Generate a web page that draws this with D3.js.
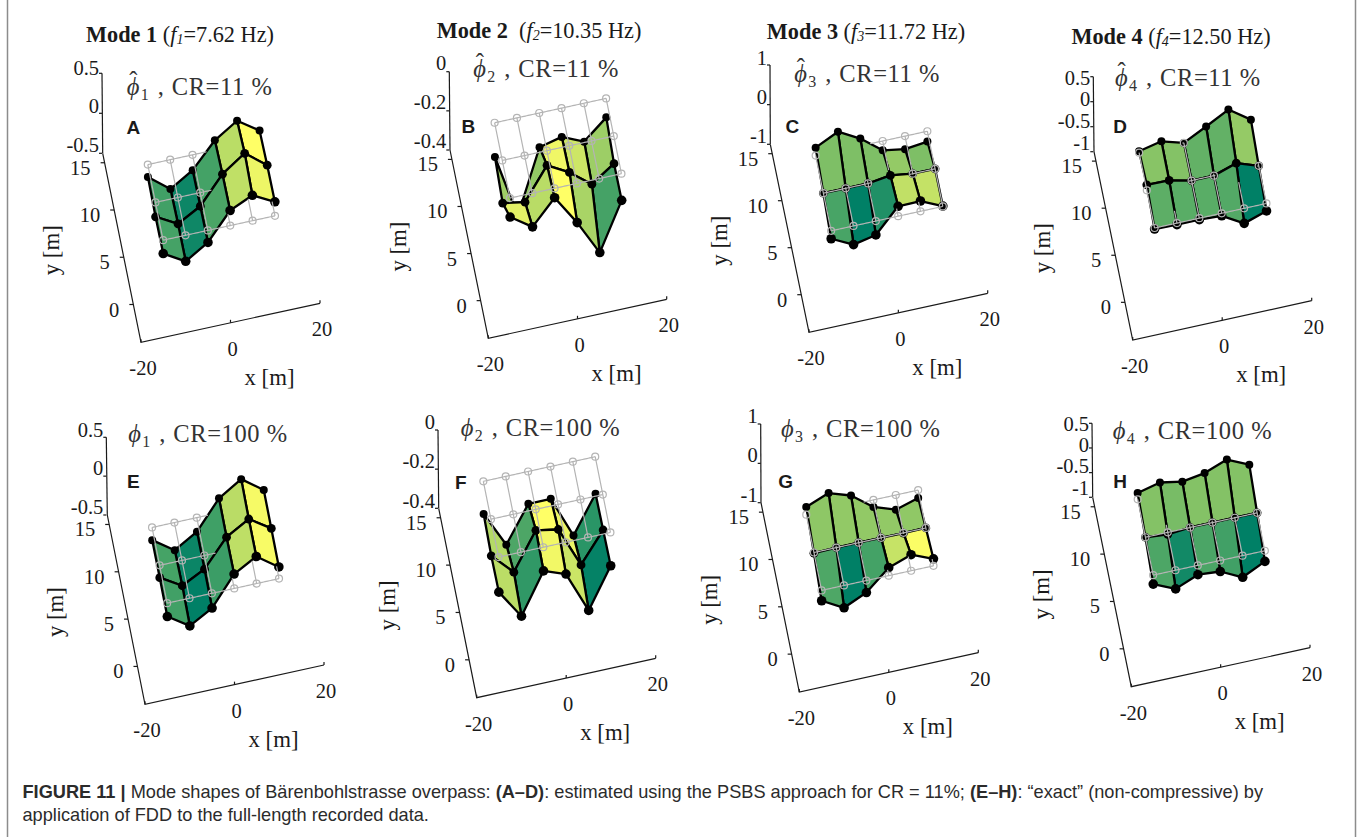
<!DOCTYPE html>
<html>
<head>
<meta charset="utf-8">
<script src="https://cdn.jsdelivr.net/npm/d3@7"></script>
<style>
  html, body { margin: 0; padding: 0; background: #fff; }
  svg { display: block; }
  .serif { font-family: "Liberation Serif", serif; }
  .sans { font-family: "Liberation Sans", Arial, sans-serif; }
</style>
</head>
<body>
<svg id="chart" width="1357" height="837"></svg>
<script>
// Measurement grid of the overpass [m]
const xNodes = [-12.5, -7.5, -2.5, 2.5, 7.5, 12.5];
const yNodes = [1.8, 5.8, 9.8];

// Axis ticks
const xTicks = [-20, 0, 20];
const yTicks = [0, 5, 10, 15];
const zTicks1 = [-0.5, 0, 0.5];
const zTicks2 = [-0.4, -0.2, 0];
const zTicks3 = [-1, 0, 1];
const zTicks4 = [-1, -0.5, 0, 0.5];

// Mode shapes, rows go y = 1.8, 5.8, 9.8
const phiHat1 = [
  [-0.167, -0.325, -0.15, 0.188, 0.317, 0.175],
  [-0.18, -0.33, -0.17, 0.17, 0.37, 0.16],
  [-0.154, -0.367, -0.192, 0.121, 0.304, 0.121]
];
const phiHat2 = [
  [-0.097, -0.172, -0.048, -0.2, -0.378, -0.136],
  [-0.218, -0.238, -0.075, -0.136, -0.221, -0.141],
  [-0.175, -0.5, -0.175, -0.147, -0.196, -0.097]
];
const phiHat3 = [
  [-0.2, -0.47, -0.35, 0.25, 0.26, 0.01],
  [0, 0, 0, 0.08, 0, 0],
  [0.2, 0.48, 0.185, -0.235, -0.33, -0.26]
];
const phiHat4 = [
  [-0.02, -0.03, -0.03, -0.05, -0.3, -0.15],
  [0.11, 0.1, 0, 0, 0.15, 0],
  [0.03, 0.13, 0, 0.23, 0.47, 0.17]
];
const phi1 = [
  [-0.172, -0.356, -0.189, 0.185, 0.348, 0.15],
  [-0.159, -0.326, -0.176, 0.172, 0.343, 0.159],
  [-0.163, -0.356, -0.18, 0.185, 0.369, 0.167]
];
const phi2 = [
  [-0.179, -0.327, -0.121, -0.162, -0.373, -0.17],
  [-0.187, -0.296, -0.107, -0.128, -0.334, -0.181],
  [-0.167, -0.349, -0.165, -0.165, -0.378, -0.189]
];
const phi3 = [
  [-0.263, -0.568, -0.305, 0.203, 0.407, 0.178],
  [-0.017, 0, 0, 0, -0.008, 0],
  [0.195, 0.424, 0.237, -0.178, -0.373, -0.203]
];
const phi4 = [
  [-0.182, -0.378, -0.189, -0.223, -0.439, -0.216],
  [0, -0.04, 0, 0, 0, 0],
  [0.128, 0.243, 0.162, 0.236, 0.412, 0.209]
];

const modeTitles = [
  { mode: "Mode 1", gap: " (", sub: "1", freq: "=7.62 Hz)", cx: 180, y: 42 },
  { mode: "Mode 2", gap: "  (", sub: "2", freq: "=10.35 Hz)", cx: 539, y: 38 },
  { mode: "Mode 3", gap: " (", sub: "3", freq: "=11.72 Hz)", cx: 866, y: 39 },
  { mode: "Mode 4", gap: " (", sub: "4", freq: "=12.50 Hz)", cx: 1171, y: 44 }
];

// Panel placement: corner = axes corner, xEnd / yTop / zTop = far ends of the axes
const panels = [
  { letter: "A", values: phiHat1, z: zTicks1, idx: "1", hat: true, cr: "CR=11 %", corner: [141, 342.3], xEnd: [320, 303.3], yTop: [102.7, 153.3], zTop: [102, 73.3], zLab: [68.3, 145], txt: [126.7, 95], let: [133.3, 126.7] },
  { letter: "B", values: phiHat2, z: zTicks2, idx: "2", hat: true, cr: "CR=11 %", corner: [488.3, 338.3], xEnd: [666.7, 299.3], yTop: [450, 150], zTop: [449.3, 71.7], zLab: [63.3, 141.7], txt: [473.3, 76.7], let: [468.3, 125.7] },
  { letter: "C", values: phiHat3, z: zTicks3, idx: "3", hat: true, cr: "CR=11 %", corner: [809, 332.3], xEnd: [987.7, 293.3], yTop: [770.3, 144.3], zTop: [770, 65], zLab: [58.3, 136.7], txt: [794.3, 81.7], let: [792.3, 125.7] },
  { letter: "D", values: phiHat4, z: zTicks4, idx: "4", hat: true, cr: "CR=11 %", corner: [1132.7, 340], xEnd: [1311.7, 300.7], yTop: [1094, 151.7], zTop: [1093.3, 76.7], zLab: [78.3, 143.3], txt: [1115, 86], let: [1120, 125.7] },
  { letter: "E", values: phi1, z: zTicks1, idx: "1", hat: false, cr: "CR=100 %", corner: [145, 704.3], xEnd: [324, 665], yTop: [107.3, 515], zTop: [106.3, 437.3], zLab: [430, 507.3], txt: [128.3, 441.7], let: [133.3, 481] },
  { letter: "F", values: phi2, z: zTicks2, idx: "2", hat: false, cr: "CR=100 %", corner: [476.7, 697.7], xEnd: [655.7, 658.3], yTop: [438.7, 508.3], zTop: [438, 430], zLab: [422.7, 501], txt: [460.7, 436], let: [460.7, 481.7] },
  { letter: "G", values: phi3, z: zTicks3, idx: "3", hat: false, cr: "CR=100 %", corner: [799.3, 692], xEnd: [978.3, 652.7], yTop: [761, 502.7], zTop: [760.7, 424], zLab: [416.7, 495], txt: [781, 437.3], let: [785.7, 481] },
  { letter: "H", values: phi4, z: zTicks4, idx: "4", hat: false, cr: "CR=100 %", corner: [1131.3, 686.7], xEnd: [1310, 647.7], yTop: [1092.7, 497.3], zTop: [1092, 423.3], zLab: [424, 488.3], txt: [1112.7, 439.3], let: [1120, 481] }
];

const svg = d3.select("#chart");
const xFrac = d3.scaleLinear().domain([-20, 20]).range([0, 1]);
const yFrac = d3.scaleLinear().domain([-4, 16]).range([0, 1]);
const nodeRadius = [4.8, 4.4, 4];

modeTitles.forEach(t => {
  const title = svg.append("text").attr("class", "serif")
    .attr("x", t.cx).attr("y", t.y).attr("text-anchor", "middle")
    .attr("font-size", 22.3).attr("fill", "#1a1a1a").attr("xml:space", "preserve");
  title.append("tspan").attr("font-weight", "bold").text(t.mode);
  title.append("tspan").text(t.gap);
  title.append("tspan").attr("font-style", "italic").text("f");
  title.append("tspan").attr("font-style", "italic").attr("font-size", 14).attr("dy", 2).text(t.sub);
  title.append("tspan").attr("dy", -2).text(t.freq);
});

panels.forEach(drawPanel);
drawCaption();

function drawPanel(p) {
  const g = svg.append("g");
  const zFrac = d3.scaleLinear().domain(d3.extent(p.z)).range([0, 1]);

  // oblique projection built from the three axis vectors
  const project = (x, y, z) => {
    const fx = xFrac(x), fy = yFrac(y), fz = zFrac(z);
    return [
      p.corner[0] + fx * (p.xEnd[0] - p.corner[0]) + fy * (p.yTop[0] - p.corner[0]) + fz * (p.zTop[0] - p.yTop[0]),
      p.corner[1] + fx * (p.xEnd[1] - p.corner[1]) + fy * (p.yTop[1] - p.corner[1]) + fz * (p.zTop[1] - p.yTop[1])
    ];
  };
  // floor points on the axes, without lift
  const floor = (x, y) => project(x, y, p.z[0]);

  drawAxes(g, p, floor);

  const all = p.values.flat();
  const summer = d3.scaleLinear().domain(d3.extent(all)).range(["#008066", "#ffff66"]).clamp(true);

  // faces, far ones first so near ones paint over them
  const faces = [];
  const triangles = [];
  for (let j = yNodes.length - 2; j >= 0; j--) {
    for (let i = xNodes.length - 2; i >= 0; i--) {
      const ids = [[i, j], [i + 1, j], [i + 1, j + 1], [i, j + 1]];
      const pts = ids.map(([a, b]) => project(xNodes[a], yNodes[b], p.values[b][a]));
      const zs = ids.map(([a, b]) => p.values[b][a]);
      faces.push({ pts, color: summer(p.values[j][i]) });
      triangles.push({ ids: [ids[0], ids[1], ids[2]], pts: [pts[0], pts[1], pts[2]], zs: [zs[0], zs[1], zs[2]] });
      triangles.push({ ids: [ids[0], ids[2], ids[3]], pts: [pts[0], pts[2], pts[3]], zs: [zs[0], zs[2], zs[3]] });
    }
  }

  g.append("g").selectAll("path").data(faces).join("path")
    .attr("d", d => d3.line()(d.pts) + "Z")
    .attr("fill", d => d.color)
    .attr("stroke", "#000")
    .attr("stroke-width", 2.3)
    .attr("stroke-linejoin", "round");

  // is this screen point behind the surface, given its height z
  const eps = (d3.max(all) - d3.min(all)) * 0.015;
  const covered = (pt, z, a, b) => triangles.some(t => {
    if (a !== undefined && t.ids.some(n => n[0] === a && n[1] === b)) return false;
    const w = barycentric(pt, t.pts);
    if (!w) return false;
    return w[0] * t.zs[0] + w[1] * t.zs[1] + w[2] * t.zs[2] > z + eps;
  });

  // black nodes
  const nodes = [];
  yNodes.forEach((y, b) => xNodes.forEach((x, a) => {
    const pt = project(x, y, p.values[b][a]);
    if (!covered(pt, p.values[b][a], a, b)) nodes.push({ pt, r: nodeRadius[b] });
  }));
  g.append("g").selectAll("circle").data(nodes).join("circle")
    .attr("cx", d => d.pt[0]).attr("cy", d => d.pt[1]).attr("r", d => d.r)
    .attr("fill", "#000");

  // grey undeformed grid at z = 0, only where the surface does not hide it
  const greySegs = [];
  yNodes.forEach(y => greySegs.push([[xNodes[0], y], [xNodes[5], y]]));
  xNodes.forEach(x => greySegs.push([[x, yNodes[0]], [x, yNodes[2]]]));
  const greyLine = d3.line().defined(d => d.show).x(d => d.pt[0]).y(d => d.pt[1]);
  const samples = greySegs.map(([s, e]) => d3.range(0, 1.0001, 1 / 80).map(k => {
    const pt = project(s[0] + k * (e[0] - s[0]), s[1] + k * (e[1] - s[1]), 0);
    return { pt, show: !covered(pt, 0) };
  }));
  g.append("g").selectAll("path").data(samples).join("path")
    .attr("d", greyLine).attr("fill", "none")
    .attr("stroke", "#b4b4b4").attr("stroke-width", 1.2);

  const greyNodes = [];
  yNodes.forEach(y => xNodes.forEach(x => {
    const pt = project(x, y, 0);
    if (!covered(pt, 0)) greyNodes.push(pt);
  }));
  g.append("g").selectAll("circle").data(greyNodes).join("circle")
    .attr("cx", d => d[0]).attr("cy", d => d[1]).attr("r", 3.5)
    .attr("fill", "none").attr("stroke", "#b4b4b4").attr("stroke-width", 1.2);

  // texts over the plot, the hat is a tspan moved back over the phi
  const label = g.append("text").attr("class", "serif")
    .attr("x", p.txt[0]).attr("y", p.txt[1])
    .attr("font-size", 24.5).attr("fill", "#333").attr("xml:space", "preserve");
  label.append("tspan").attr("font-style", "italic").text("\u03D5");
  let back = 0;
  if (p.hat) {
    label.append("tspan").attr("x", p.txt[0] + 2.5).attr("dy", -6).text("\u02C6");
    back = 6;
  }
  label.append("tspan").attr("x", p.txt[0] + 14).attr("font-size", 16).attr("dy", back + 5).text(p.idx);
  label.append("tspan").attr("dy", -5).attr("x", p.txt[0] + 31).text(",");
  label.append("tspan").attr("x", p.txt[0] + 45).attr("letter-spacing", 0.6).text(p.cr);

  g.append("text").attr("class", "sans")
    .attr("x", p.let[0]).attr("y", p.let[1]).attr("dy", "0.36em")
    .attr("text-anchor", "middle").attr("font-weight", "bold").attr("font-size", 19)
    .attr("fill", "#1a1a1a").text(p.letter);
}

function drawAxes(g, p, floor) {
  const ink = "#1a1a1a";
  const axes = g.append("g").attr("fill", "none").attr("stroke", ink).attr("stroke-width", 1.2);
  axes.append("path").attr("d", d3.line()([p.yTop, p.corner, p.xEnd]));
  axes.append("path").attr("d", d3.line()([p.yTop, p.zTop]));

  const tickX = xTicks.map(v => floor(v, -4));
  const tickY = yTicks.map(v => floor(-20, v));
  axes.selectAll(".tx").data(tickX).join("path")
    .attr("d", d => `M${d[0]},${d[1]}l0,-3`);
  axes.selectAll(".ty").data(tickY).join("path")
    .attr("d", d => `M${d[0]},${d[1]}l-4,0`);

  const text = g.append("g").attr("class", "serif").attr("font-size", 20.5).attr("fill", ink);
  text.selectAll(".lx").data(xTicks).join("text")
    .attr("x", d => floor(d, -4)[0] + 2).attr("y", d => floor(d, -4)[1] + 33)
    .attr("text-anchor", "middle").text(d => d);
  text.selectAll(".ly").data(yTicks).join("text")
    .attr("x", d => floor(-20, d)[0] - 14).attr("y", d => floor(-20, d)[1] + 12)
    .attr("text-anchor", "end").text(d => d);

  // z labels sit a bit off the ticks in the original, evenly spaced
  const zLabelY = d3.scaleLinear().domain(d3.extent(p.z)).range([p.zLab[1], p.zLab[0]]);
  text.selectAll(".lz").data(p.z).join("text")
    .attr("x", p.zTop[0] - 3).attr("y", d => zLabelY(d) + 6.5)
    .attr("text-anchor", "end").text(d => d);
  const zTickY = d3.scaleLinear().domain(d3.extent(p.z)).range([p.yTop[1], p.zTop[1]]);
  axes.selectAll(".tz").data(p.z).join("path")
    .attr("d", d => `M${p.zTop[0]},${zTickY(d)}l-3,0`);

  const xMid = floor(0, -4);
  text.append("text").attr("font-size", 22.8).attr("text-anchor", "middle")
    .attr("x", xMid[0] + 39).attr("y", xMid[1] + 62).text("x [m]");
  const yMid = floor(-20, 5);
  text.append("text").attr("font-size", 22.8).attr("text-anchor", "middle")
    .attr("transform", `translate(${yMid[0] - 65},${yMid[1] - 7}) rotate(-90)`).text("y [m]");
}

function barycentric(pt, tri) {
  const [a, b, c] = tri;
  const den = (b[1] - c[1]) * (a[0] - c[0]) + (c[0] - b[0]) * (a[1] - c[1]);
  if (Math.abs(den) < 1e-6) return null;
  const w0 = ((b[1] - c[1]) * (pt[0] - c[0]) + (c[0] - b[0]) * (pt[1] - c[1])) / den;
  const w1 = ((c[1] - a[1]) * (pt[0] - c[0]) + (a[0] - c[0]) * (pt[1] - c[1])) / den;
  const w2 = 1 - w0 - w1;
  return (w0 >= 0 && w1 >= 0 && w2 >= 0) ? [w0, w1, w2] : null;
}

function drawCaption() {
  const cap = svg.append("g").attr("class", "sans").attr("font-size", 18.2).attr("fill", "#2b2b2b");
  const line1 = cap.append("text").attr("x", 22.5).attr("y", 798);
  [["FIGURE 11 | ", true], ["Mode shapes of Bärenbohlstrasse overpass: ", false], ["(A–D)", true],
   [": estimated using the PSBS approach for CR = 11%; ", false], ["(E–H)", true],
   [": \u201Cexact\u201D (non-compressive) by", false]].forEach(([t, bold]) => {
    line1.append("tspan").attr("font-weight", bold ? "bold" : "normal").text(t);
  });
  cap.append("text").attr("x", 22.5).attr("y", 821).text("application of FDD to the full-length recorded data.");
  svg.append("path")
    .attr("d", d3.line()([[7.5, 0], [7.5, 837]]))
    .attr("stroke", "#8c8c8c").attr("stroke-width", 1.5);
  svg.append("path")
    .attr("d", d3.line()([[1355.5, 0], [1355.5, 837]]))
    .attr("stroke", "#8c8c8c").attr("stroke-width", 1.5);
}
</script>
</body>
</html>
